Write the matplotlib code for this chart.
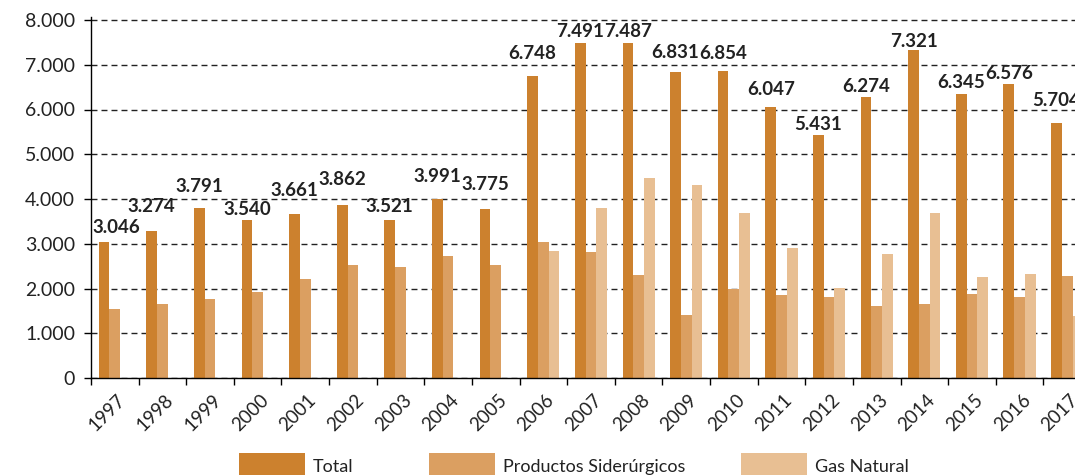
import numpy as np
import matplotlib
matplotlib.use("Agg")
import matplotlib.pyplot as plt
from matplotlib import font_manager
from matplotlib.patches import Rectangle
from matplotlib.transforms import ScaledTranslation

# ---- data -------------------------------------------------------------
years = ["1997", "1998", "1999", "2000", "2001", "2002", "2003", "2004",
         "2005", "2006", "2007", "2008", "2009", "2010", "2011", "2012",
         "2013", "2014", "2015", "2016", "2017"]
total = [3046, 3274, 3791, 3540, 3661, 3862, 3521, 3991, 3775, 6748, 7491,
         7487, 6831, 6854, 6047, 5431, 6274, 7321, 6345, 6576, 5704]
siderurgicos = [1552, 1648, 1760, 1917, 2208, 2521, 2476, 2722, 2521, 3035,
                2811, 2297, 1402, 1984, 1850, 1805, 1604, 1648, 1872, 1805,
                2275]
gas_natural = [0, 0, 0, 0, 0, 0, 0, 0, 0, 2834, 3796, 4467, 4310, 3684,
               2901, 2006, 2767, 3684, 2252, 2319, 1380]
series_names = ["Total", "Productos Siderúrgicos", "Gas Natural"]
y_ticks = [0, 1000, 2000, 3000, 4000, 5000, 6000, 7000, 8000]
y_tick_labels = ["0", "1.000", "2.000", "3.000", "4.000", "5.000",
                 "6.000", "7.000", "8.000"]

# ---- style ------------------------------------------------------------
colors = ["#CC812E", "#DB9F61", "#E8BF93"]
text_color = "#222222"
# vertical lift (pixels) of each value label above its bar
label_lift = [9, 19, 16, 5, 18, 20, 8, 17, 19, 17, 6, 6, 14, 12, 12, 5, 5,
              3, 6, 5, 17]

available = {f.name for f in font_manager.fontManager.ttflist}
main_font = "Lato" if "Lato" in available else "DejaVu Sans"
plt.rcParams["font.family"] = [main_font, "DejaVu Sans"]

W, H = 1075, 475
fig = plt.figure(figsize=(W / 100, H / 100), dpi=100)
# plot area runs past the right edge of the figure
ax = fig.add_axes([91 / W, 97 / H, 1000 / W, 361 / H])

x = np.arange(len(years))
bw = 0.225
for i, (vals, col, name) in enumerate(zip([total, siderurgicos, gas_natural],
                                           colors, series_names)):
    ax.bar(x + (i - 1) * bw, vals, bw, color=col, label=name, zorder=3,
           linewidth=0)

# value labels on the Total bars
for xi, v, lift in zip(x, total, label_lift):
    txt = f"{v:,}".replace(",", ".")
    dx = 12 if xi == 0 else 0
    ax.annotate(txt, xy=(xi - bw, v), xytext=(dx, lift),
                textcoords="offset pixels", ha="center", va="baseline",
                fontsize=13.5, fontweight="bold", color=text_color, zorder=4,
                annotation_clip=False)

ax.set_xlim(-0.5, len(years) - 0.5)
ax.set_ylim(0, 8000 * 361 / 358)
ax.set_yticks(y_ticks)
ax.set_yticklabels(y_tick_labels)

# year labels at category centres, tick marks on category boundaries
ax.set_xticks(x)
ax.set_xticklabels(years, rotation=45, ha="right", va="center",
                   rotation_mode="anchor")
ax.set_xticks(np.arange(len(years) + 1) - 0.5, minor=True)
ax.tick_params(axis="x", which="major", length=0, pad=13.7,
               labelsize=13.5, labelcolor=text_color)
ax.tick_params(axis="x", which="minor", length=5, width=1.0,
               direction="out", color="black")
offset = ScaledTranslation(0.08, 0, fig.dpi_scale_trans)
for lab in ax.get_xticklabels():
    lab.set_transform(lab.get_transform() + offset)

ax.tick_params(axis="y", length=5, width=1.0, direction="out", pad=6.5,
               labelsize=14, labelcolor=text_color, color="black")

ax.yaxis.grid(True, linestyle=(0, (4.3, 2.9)), color="#222222", lw=1.0,
              zorder=0)
ax.set_axisbelow(True)
for side in ["top", "right"]:
    ax.spines[side].set_visible(False)
for side in ["left", "bottom"]:
    ax.spines[side].set_linewidth(1.0)
    ax.spines[side].set_color("black")
    ax.spines[side].set_zorder(5)

# legend row along the bottom edge
patch_left = [239, 429, 741]
for px, col, name in zip(patch_left, colors, series_names):
    fig.add_artist(Rectangle((px / W, -5 / H), 66 / W, 27 / H,
                             transform=fig.transFigure, color=col, lw=0))
    fig.text((px + 74) / W, 3 / H, name, fontsize=13, color=text_color,
             va="baseline", ha="left")

fig.savefig("out.png", dpi=100)
